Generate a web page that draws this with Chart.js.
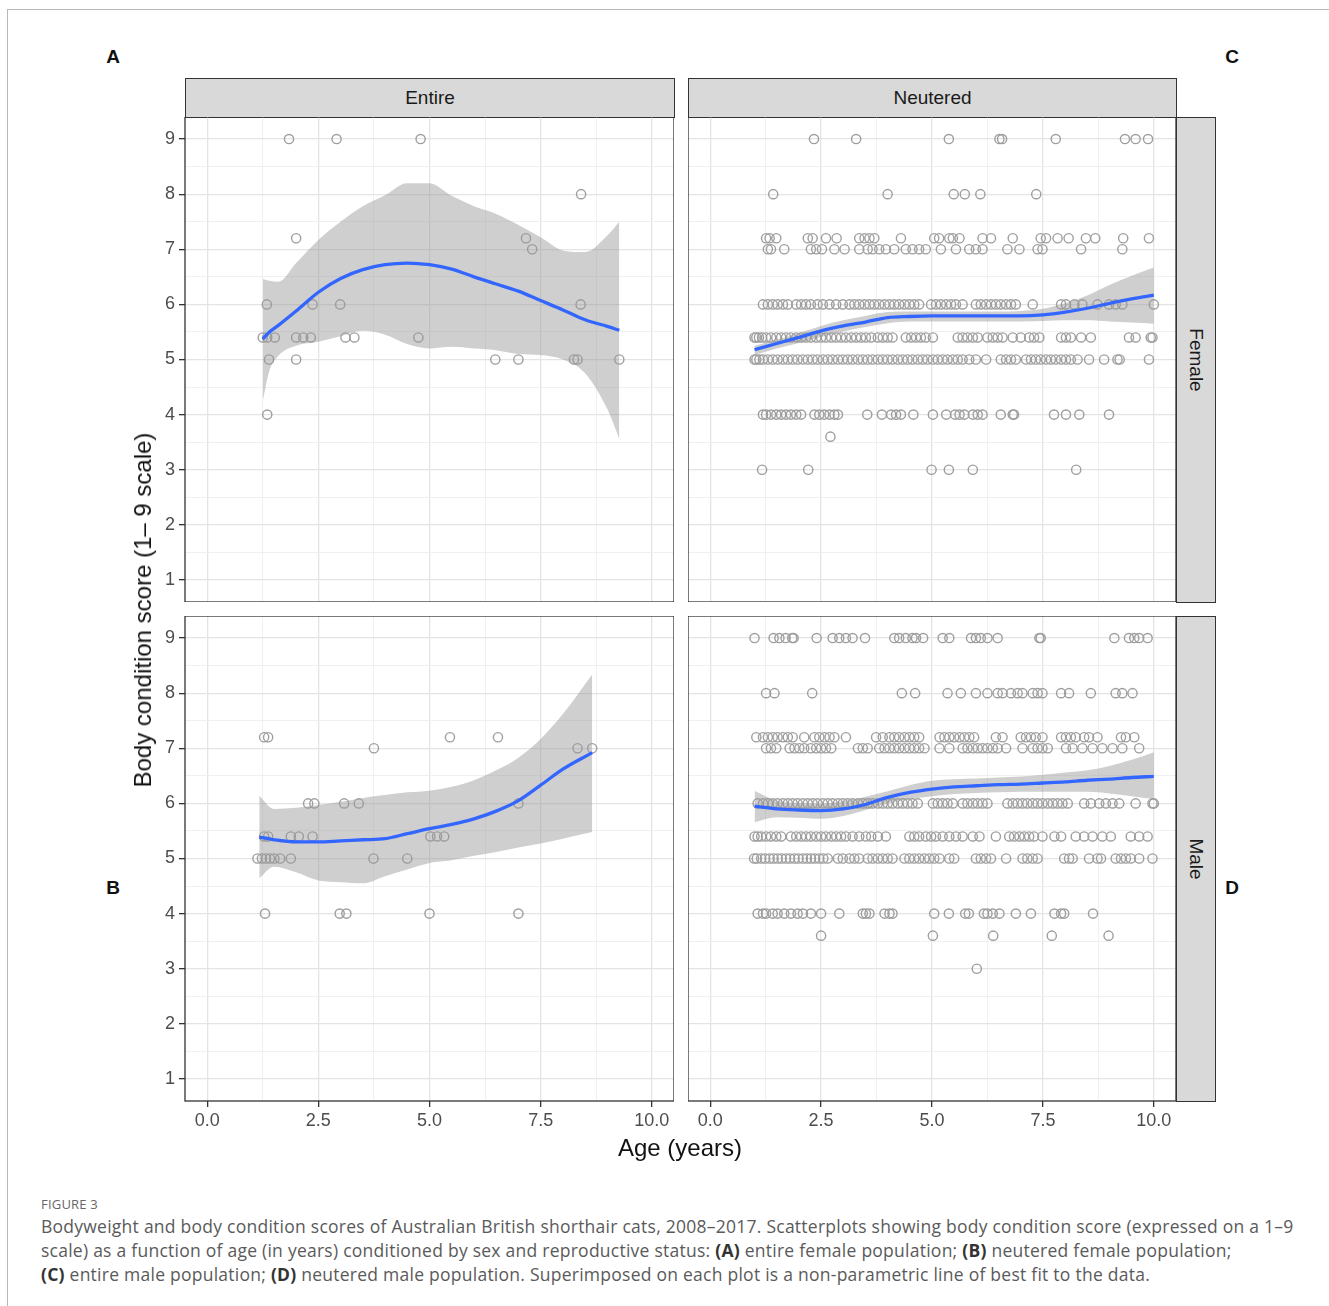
<!DOCTYPE html>
<html>
<head>
<meta charset="utf-8">
<script src="https://cdn.jsdelivr.net/npm/chart.js@4.4.1/dist/chart.umd.min.js"></script>
<style>
  body { margin:0; width:1329px; height:1306px; position:relative; background:#fff; overflow:hidden;
         font-family:'Liberation Sans', Arial, sans-serif; }
  .abs { position:absolute; }
  .frame { left:7px; top:9px; width:1400px; height:1400px; border-top:1px solid #b8b8b8; border-left:1px solid #b8b8b8; }
  .tag { font-weight:bold; font-size:19px; color:#111; width:30px; text-align:center; line-height:20px; }
  .strip { background:#d9d9d9; border:1px solid #333; box-sizing:border-box; color:#1a1a1a; font-size:19px;
           display:flex; align-items:center; justify-content:center; }
  .vstrip span { transform:rotate(90deg); white-space:nowrap; display:block; }
  .title { font-size:24px; color:#111; white-space:nowrap; }
  .cap { font-family:'Open Sans', sans-serif; font-size:17.5px; letter-spacing:0.25px; color:#5a5a5a; line-height:24px; white-space:nowrap; }
  .cap b { color:#333; }
</style>
</head>
<body>
<div class="abs frame"></div>

<div class="abs tag" style="left:98px;top:47px">A</div>
<div class="abs tag" style="left:1217px;top:47px">C</div>
<div class="abs tag" style="left:98px;top:878px">B</div>
<div class="abs tag" style="left:1217px;top:878px">D</div>

<div class="abs strip" style="left:185px;top:78px;width:490px;height:40px">Entire</div>
<div class="abs strip" style="left:688px;top:78px;width:489px;height:40px">Neutered</div>
<div class="abs strip vstrip" style="left:1176px;top:117px;width:40px;height:486px"><span>Female</span></div>
<div class="abs strip vstrip" style="left:1176px;top:616px;width:40px;height:486px"><span>Male</span></div>

<canvas id="cTL" class="abs" style="left:140px;top:117px" width="534" height="485"></canvas>
<canvas id="cTR" class="abs" style="left:688px;top:117px" width="488" height="485"></canvas>
<canvas id="cBL" class="abs" style="left:140px;top:616px" width="534" height="521"></canvas>
<canvas id="cBR" class="abs" style="left:688px;top:616px" width="488" height="521"></canvas>

<div class="abs title" style="left:143px;top:610px;transform:translate(-50%,-50%) rotate(-90deg)">Body condition score (1– 9 scale)</div>
<div class="abs title" style="left:680px;top:1148px;transform:translate(-50%,-50%)">Age (years)</div>

<div class="abs" style="left:41px;top:1195px;font-family:'Open Sans',sans-serif;font-size:13px;color:#666;letter-spacing:0.2px">FIGURE 3</div>
<div class="abs cap" style="left:41px;top:1214px">Bodyweight and body condition scores of Australian British shorthair cats, 2008–2017. Scatterplots showing body condition score (expressed on a 1–9<br>scale) as a function of age (in years) conditioned by sex and reproductive status: <b>(A)</b> entire female population; <b>(B)</b> neutered female population;<br><b>(C)</b> entire male population; <b>(D)</b> neutered male population. Superimposed on each plot is a non-parametric line of best fit to the data.</div>

<script>
// axis breaks
var xMajor = [0, 2.5, 5, 7.5, 10];
var xTicks = [0, 1.25, 2.5, 3.75, 5, 6.25, 7.5, 8.75, 10];
var yMajor = [1, 2, 3, 4, 5, 6, 7, 8, 9];
var yTicks = [1, 1.5, 2, 2.5, 3, 3.5, 4, 4.5, 5, 5.5, 6, 6.5, 7, 7.5, 8, 8.5, 9];

// entire female (panel A)
var efAge = [1.84, 2.91, 4.80, 8.41, 2.0, 7.17, 7.31, 1.34, 2.37, 2.99, 8.40,
             1.25, 1.35, 1.52, 2.0, 2.16, 2.33, 3.11, 3.31, 4.75,
             1.39, 2.0, 6.48, 7.0, 8.25, 8.33, 9.27, 1.35];
var efBcs = [9, 9, 9, 8, 7.2, 7.2, 7, 6, 6, 6, 6,
             5.4, 5.4, 5.4, 5.4, 5.4, 5.4, 5.4, 5.4, 5.4,
             5, 5, 5, 5, 5, 5, 5, 4];
var efFitX = [1.25, 1.4, 1.6, 2.0, 2.5, 3.0, 3.5, 4.0, 4.5, 5.0, 5.5, 6.0, 6.5, 7.0, 7.5, 8.0, 8.5, 9.0, 9.27];
var efFit  = [5.37, 5.5, 5.62, 5.88, 6.22, 6.47, 6.63, 6.72, 6.75, 6.72, 6.64, 6.5, 6.37, 6.24, 6.07, 5.9, 5.72, 5.6, 5.53];
var efHi   = [6.46, 6.43, 6.41, 6.75, 7.17, 7.5, 7.78, 7.98, 8.2, 8.2, 7.97, 7.78, 7.64, 7.44, 7.22, 6.98, 6.95, 7.25, 7.5];
var efLo   = [4.25, 4.8, 5.07, 5.25, 5.32, 5.42, 5.52, 5.45, 5.28, 5.2, 5.23, 5.2, 5.17, 5.1, 5.08, 5.0, 4.75, 4.1, 3.56];

// entire male (panel B)
var emAge = [1.28, 1.37, 5.46, 6.54, 3.75, 8.33, 8.66, 2.27, 2.41, 3.08, 3.41, 7.0,
             1.28, 1.37, 1.88, 2.06, 2.37, 5.02, 5.17, 5.33,
             1.13, 1.23, 1.32, 1.41, 1.51, 1.64, 1.88, 3.74, 4.50,
             1.30, 2.98, 3.13, 5.0, 7.0];
var emBcs = [7.2, 7.2, 7.2, 7.2, 7, 7, 7, 6, 6, 6, 6, 6,
             5.4, 5.4, 5.4, 5.4, 5.4, 5.4, 5.4, 5.4,
             5, 5, 5, 5, 5, 5, 5, 5, 5,
             4, 4, 4, 4, 4];
var emFitX = [1.17, 1.5, 2.0, 2.5, 3.0, 3.5, 4.0, 4.5, 5.0, 5.5, 6.0, 6.5, 7.0, 7.5, 8.0, 8.66];
var emFit  = [5.39, 5.34, 5.3, 5.3, 5.32, 5.34, 5.36, 5.45, 5.54, 5.62, 5.72, 5.86, 6.05, 6.33, 6.62, 6.92];
var emHi   = [6.14, 5.9, 5.92, 5.97, 6.03, 6.1, 6.15, 6.2, 6.23, 6.3, 6.42, 6.6, 6.83, 7.17, 7.62, 8.34];
var emLo   = [4.64, 4.85, 4.75, 4.6, 4.57, 4.55, 4.68, 4.8, 4.92, 4.97, 5.05, 5.12, 5.2, 5.27, 5.36, 5.48];

// neutered female (panel C): one age list per score row
var nfRows = [9, 8, 7.2, 7, 6, 5.4, 5, 4, 3.6, 3];
var nfAges = [
  [2.34, 3.29, 5.38, 6.52, 6.58, 7.79, 9.35, 9.59, 9.87],
  [1.42, 4.0, 5.49, 5.74, 6.09, 7.35],
  [1.26, 1.34, 1.49, 2.20, 2.31, 2.61, 2.85, 3.36, 3.48, 3.59, 3.70, 4.30, 5.05, 5.16, 5.39, 5.47, 5.62, 6.14, 6.33, 6.82, 7.45, 7.57, 7.83, 8.08, 8.47, 8.68, 9.31, 9.89],
  [1.30, 1.37, 1.67, 2.27, 2.39, 2.52, 2.80, 3.03, 3.36, 3.55, 3.66, 3.81, 3.96, 4.15, 4.41, 4.56, 4.71, 4.86, 5.20, 5.54, 5.84, 5.99, 6.14, 6.70, 6.97, 7.38, 7.49, 8.36, 9.29],
  [1.19, 1.30, 1.41, 1.52, 1.64, 1.75, 1.94, 2.05, 2.16, 2.27, 2.42, 2.54, 2.69, 2.84, 2.99, 3.14, 3.25, 3.36, 3.48, 3.59, 3.70, 3.81, 3.93, 4.04, 4.15, 4.26, 4.38, 4.49, 4.60, 4.71, 4.98, 5.09, 5.20, 5.32, 5.43, 5.54, 5.69, 5.99, 6.10, 6.22, 6.33, 6.44, 6.55, 6.67, 6.78, 6.89, 7.27, 7.91, 8.02, 8.21, 8.39, 8.73, 8.99, 9.14, 9.29, 10.0],
  [1.0, 1.04, 1.10, 1.17, 1.26, 1.37, 1.49, 1.60, 1.71, 1.82, 1.94, 2.05, 2.16, 2.27, 2.39, 2.50, 2.61, 2.73, 2.84, 2.95, 3.06, 3.18, 3.29, 3.40, 3.51, 3.63, 3.78, 3.89, 4.00, 4.11, 4.41, 4.53, 4.64, 4.75, 4.86, 5.02, 5.58, 5.69, 5.80, 5.92, 6.03, 6.25, 6.37, 6.48, 6.59, 6.82, 7.00, 7.19, 7.30, 7.42, 7.91, 8.02, 8.13, 8.36, 8.58, 9.44, 9.59, 9.93, 9.97],
  [1.0, 1.04, 1.11, 1.19, 1.30, 1.41, 1.52, 1.64, 1.75, 1.86, 1.97, 2.09, 2.20, 2.31, 2.42, 2.54, 2.65, 2.76, 2.88, 2.99, 3.10, 3.21, 3.33, 3.44, 3.55, 3.66, 3.78, 3.89, 4.00, 4.11, 4.23, 4.34, 4.45, 4.56, 4.68, 4.79, 4.90, 5.02, 5.13, 5.24, 5.35, 5.47, 5.58, 5.69, 5.84, 5.99, 6.22, 6.55, 6.67, 6.78, 6.89, 7.12, 7.23, 7.34, 7.45, 7.57, 7.68, 7.79, 7.91, 8.02, 8.13, 8.28, 8.54, 8.88, 9.18, 9.23, 9.89],
  [1.19, 1.26, 1.37, 1.49, 1.60, 1.71, 1.82, 1.94, 2.05, 2.35, 2.46, 2.57, 2.69, 2.80, 2.88, 3.54, 3.87, 4.08, 4.19, 4.30, 4.58, 5.02, 5.32, 5.52, 5.62, 5.73, 5.92, 6.03, 6.14, 6.55, 6.82, 6.85, 7.75, 8.02, 8.32, 8.99],
  [2.71],
  [1.17, 2.21, 4.99, 5.38, 5.92, 8.25]
];
var nfFitX = [1.0, 1.5, 2.0, 2.5, 3.0, 3.5, 4.0, 4.5, 5.0, 5.5, 6.0, 6.5, 7.0, 7.5, 8.0, 8.5, 9.0, 9.5, 10.0];
var nfFit  = [5.18, 5.29, 5.4, 5.52, 5.61, 5.68, 5.76, 5.78, 5.79, 5.79, 5.79, 5.79, 5.79, 5.81, 5.86, 5.93, 6.02, 6.1, 6.17];
var nfHi   = [5.25, 5.36, 5.48, 5.61, 5.71, 5.79, 5.86, 5.87, 5.87, 5.87, 5.87, 5.87, 5.88, 5.92, 6.02, 6.16, 6.35, 6.52, 6.67];
var nfLo   = [5.08, 5.2, 5.3, 5.41, 5.51, 5.59, 5.66, 5.69, 5.69, 5.69, 5.69, 5.69, 5.69, 5.7, 5.71, 5.71, 5.69, 5.67, 5.65];

// neutered male (panel D)
var nmRows = [9, 8, 7.2, 7, 6, 5.4, 5, 4, 3.6, 3];
var nmAges = [
  [1.0, 1.43, 1.56, 1.70, 1.85, 1.88, 2.40, 2.76, 2.91, 3.06, 3.21, 3.49, 4.15, 4.26, 4.41, 4.56, 4.64, 4.80, 5.24, 5.39, 5.88, 5.99, 6.10, 6.25, 6.48, 7.42, 7.45, 9.11, 9.44, 9.56, 9.67, 9.86],
  [1.26, 1.45, 2.30, 4.32, 4.62, 5.35, 5.65, 5.99, 6.25, 6.48, 6.59, 6.78, 6.93, 7.04, 7.27, 7.38, 7.49, 7.91, 8.09, 8.58, 9.14, 9.29, 9.52],
  [1.04, 1.19, 1.30, 1.41, 1.52, 1.64, 1.75, 1.86, 2.12, 2.35, 2.46, 2.58, 2.69, 2.80, 3.06, 3.74, 3.89, 4.04, 4.15, 4.26, 4.38, 4.49, 4.60, 4.71, 5.17, 5.28, 5.39, 5.50, 5.62, 5.73, 5.84, 5.95, 6.44, 6.59, 7.00, 7.12, 7.23, 7.34, 7.49, 7.91, 8.02, 8.13, 8.24, 8.43, 8.54, 8.73, 9.26, 9.37, 9.56],
  [1.26, 1.37, 1.49, 1.79, 1.90, 2.01, 2.12, 2.27, 2.39, 2.50, 2.61, 2.73, 3.33, 3.44, 3.55, 3.81, 3.93, 4.04, 4.15, 4.26, 4.38, 4.49, 4.60, 4.71, 4.83, 5.17, 5.39, 5.69, 5.80, 5.92, 6.03, 6.14, 6.25, 6.37, 6.48, 6.67, 7.04, 7.27, 7.38, 7.49, 7.61, 8.02, 8.17, 8.39, 8.62, 8.84, 9.07, 9.29, 9.67],
  [1.07, 1.19, 1.30, 1.41, 1.52, 1.64, 1.75, 1.86, 1.97, 2.09, 2.20, 2.31, 2.42, 2.54, 2.65, 2.76, 2.88, 2.99, 3.10, 3.21, 3.33, 3.44, 3.55, 3.66, 3.78, 3.89, 4.00, 4.11, 4.23, 4.34, 4.45, 4.56, 4.68, 5.02, 5.13, 5.24, 5.35, 5.47, 5.69, 5.80, 5.92, 6.03, 6.14, 6.25, 6.70, 6.82, 6.93, 7.04, 7.15, 7.27, 7.38, 7.49, 7.61, 7.72, 7.83, 7.94, 8.06, 8.43, 8.58, 8.77, 8.92, 9.07, 9.22, 9.59, 9.97, 10.0],
  [1.0, 1.07, 1.15, 1.26, 1.37, 1.49, 1.60, 1.82, 1.94, 2.05, 2.16, 2.27, 2.39, 2.50, 2.61, 2.73, 2.84, 2.95, 3.06, 3.21, 3.36, 3.51, 3.63, 3.78, 3.96, 4.49, 4.60, 4.71, 4.86, 4.98, 5.09, 5.24, 5.39, 5.54, 5.69, 5.92, 6.07, 6.44, 6.74, 6.85, 6.97, 7.08, 7.19, 7.30, 7.49, 7.76, 7.91, 8.24, 8.43, 8.62, 8.84, 9.03, 9.48, 9.67, 9.86],
  [0.99, 1.05, 1.15, 1.24, 1.34, 1.43, 1.52, 1.61, 1.71, 1.80, 1.90, 1.99, 2.09, 2.18, 2.27, 2.36, 2.46, 2.55, 2.65, 2.88, 2.99, 3.14, 3.25, 3.36, 3.55, 3.66, 3.78, 3.89, 4.00, 4.11, 4.38, 4.49, 4.60, 4.71, 4.83, 4.94, 5.05, 5.17, 5.39, 5.50, 5.99, 6.10, 6.22, 6.33, 6.67, 7.04, 7.15, 7.27, 7.38, 7.98, 8.09, 8.17, 8.54, 8.73, 8.81, 9.14, 9.26, 9.37, 9.48, 9.67, 9.97],
  [1.07, 1.19, 1.26, 1.41, 1.52, 1.67, 1.82, 1.97, 2.09, 2.27, 2.50, 2.91, 3.44, 3.51, 3.59, 3.93, 4.04, 4.11, 5.05, 5.38, 5.75, 5.83, 6.17, 6.25, 6.37, 6.52, 6.89, 7.23, 7.76, 7.91, 7.98, 8.63],
  [2.50, 5.02, 6.38, 7.70, 8.98],
  [6.01]
];
var nmFitX = [1.0, 1.5, 2.0, 2.5, 3.0, 3.5, 4.0, 4.5, 5.0, 5.5, 6.0, 6.5, 7.0, 7.5, 8.0, 8.5, 9.0, 9.5, 10.0];
var nmFit  = [5.95, 5.9, 5.88, 5.87, 5.9, 5.98, 6.11, 6.2, 6.26, 6.3, 6.32, 6.34, 6.35, 6.37, 6.39, 6.42, 6.44, 6.47, 6.49];
var nmHi   = [6.23, 6.05, 6.01, 6.0, 6.04, 6.12, 6.22, 6.33, 6.41, 6.44, 6.45, 6.47, 6.49, 6.52, 6.56, 6.6, 6.68, 6.79, 6.93];
var nmLo   = [5.66, 5.75, 5.74, 5.72, 5.77, 5.88, 6.0, 6.08, 6.13, 6.17, 6.19, 6.2, 6.21, 6.21, 6.21, 6.21, 6.18, 6.13, 6.08];

Chart.defaults.font.family = "'Liberation Sans', Arial, sans-serif";

function pairs(xs, ys) {
  return xs.map(function (x, i) { return { x: x, y: ys[i] }; });
}
function rowPoints(rows, ages) {
  var out = [];
  rows.forEach(function (r, i) {
    ages[i].forEach(function (a) { out.push({ x: a, y: r }); });
  });
  return out;
}

// panel border drawn over the plot
var panelBorder = {
  id: 'panelBorder',
  afterDraw: function (chart) {
    var a = chart.chartArea, ctx = chart.ctx;
    ctx.save();
    ctx.strokeStyle = '#333';
    ctx.lineWidth = 1.3;
    ctx.strokeRect(a.left, a.top, a.right - a.left, a.bottom - a.top);
    ctx.restore();
  }
};

function gridOpts(major, showTicks) {
  return {
    color: function (c) { return c.tick && major.indexOf(c.tick.value) >= 0 ? '#e3e3e8' : '#eeeef2'; },
    lineWidth: function (c) { return c.tick && major.indexOf(c.tick.value) >= 0 ? 1.3 : 0.9; },
    drawTicks: showTicks,
    tickLength: 6,
    tickWidth: 1.3,
    tickColor: function (c) { return c.tick && major.indexOf(c.tick.value) >= 0 ? '#333' : 'rgba(0,0,0,0)'; }
  };
}

function drawPanel(id, points, fitX, fit, lo, hi, showX, showY) {
  new Chart(document.getElementById(id), {
    type: 'scatter',
    data: {
      datasets: [
        { data: pairs(fitX, hi), showLine: true, borderColor: 'rgba(0,0,0,0)', borderWidth: 0, pointRadius: 0,
          tension: 0.4, cubicInterpolationMode: 'monotone', fill: '+1', backgroundColor: 'rgba(153,153,153,0.47)', order: 2 },
        { data: pairs(fitX, lo), showLine: true, borderColor: 'rgba(0,0,0,0)', borderWidth: 0, pointRadius: 0,
          tension: 0.4, cubicInterpolationMode: 'monotone', fill: false, order: 2 },
        { data: pairs(fitX, fit), showLine: true, borderColor: '#3366ff', borderWidth: 3.3, pointRadius: 0,
          tension: 0.4, cubicInterpolationMode: 'monotone', fill: false, order: 1 },
        { data: points, pointRadius: 4.6, pointStyle: 'circle', borderColor: '#9e9e9e', borderWidth: 1.4,
          backgroundColor: 'rgba(0,0,0,0)', order: 3 }
      ]
    },
    options: {
      responsive: false,
      animation: false,
      events: [],
      layout: { padding: 0, autoPadding: false },
      plugins: { legend: { display: false }, tooltip: { enabled: false } },
      scales: {
        x: {
          type: 'linear', min: -0.5, max: 10.5,
          afterBuildTicks: function (s) { s.ticks = xTicks.map(function (v) { return { value: v }; }); },
          afterFit: function (s) { s.height = showX ? 36 : 0; s.paddingLeft = 0; s.paddingRight = 0; },
          ticks: { display: showX, autoSkip: false, maxRotation: 0, padding: 3, color: '#4d4d4d', font: { size: 18 },
                   callback: function (v) { return xMajor.indexOf(v) >= 0 ? v.toFixed(1) : ''; } },
          grid: gridOpts(xMajor, showX),
          border: { display: false }
        },
        y: {
          type: 'linear', min: 0.6, max: 9.4,
          afterBuildTicks: function (s) { s.ticks = yTicks.map(function (v) { return { value: v }; }); },
          afterFit: function (s) { s.width = showY ? 45 : 0; s.paddingTop = 0; s.paddingBottom = 0; },
          ticks: { display: showY, autoSkip: false, padding: 4, color: '#4d4d4d', font: { size: 18 },
                   callback: function (v) { return yMajor.indexOf(v) >= 0 ? String(v) : ''; } },
          grid: gridOpts(yMajor, showY),
          border: { display: false }
        }
      }
    },
    plugins: [panelBorder]
  });
}

drawPanel('cTL', pairs(efAge, efBcs), efFitX, efFit, efLo, efHi, false, true);
drawPanel('cTR', rowPoints(nfRows, nfAges), nfFitX, nfFit, nfLo, nfHi, false, false);
drawPanel('cBL', pairs(emAge, emBcs), emFitX, emFit, emLo, emHi, true, true);
drawPanel('cBR', rowPoints(nmRows, nmAges), nmFitX, nmFit, nmLo, nmHi, true, false);
</script>
</body>
</html>
